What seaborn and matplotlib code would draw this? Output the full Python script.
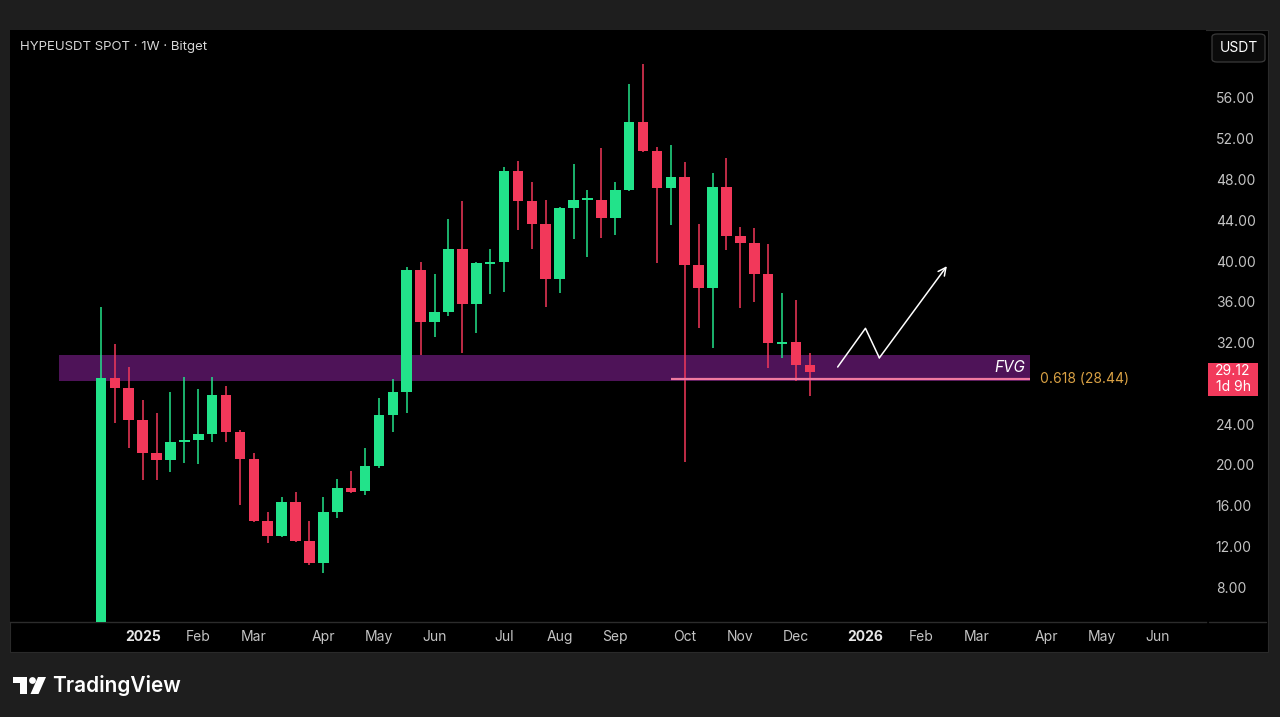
import numpy as np
import pandas as pd
import matplotlib
matplotlib.use('Agg')
import matplotlib.pyplot as plt
import matplotlib.dates as mdates
from matplotlib.patches import Rectangle, FancyBboxPatch, Circle, Polygon
from matplotlib.lines import Line2D
from matplotlib.transforms import IdentityTransform
import seaborn as sns

# Weekly candles HYPEUSDT (Bitget, 1W), first week 2024-12-16
semana_inicio = '2024-12-16'
apertura = [3.9, 28.5, 27.5, 24.4, 21.2, 20.5, 22.2, 22.4, 23.0, 26.9,
            23.2, 20.6, 14.5, 13.0, 16.4, 12.5, 10.4, 15.4, 17.7, 17.4,
            19.9, 24.9, 27.1, 39.1, 34.0, 35.0, 41.2, 35.8, 39.7, 39.9,
            48.8, 45.9, 43.6, 38.2, 45.2, 46.0, 46.0, 44.2, 47.0, 53.6,
            50.8, 47.2, 48.2, 39.6, 37.4, 47.3, 42.5, 41.8, 38.7, 31.9,
            32.1, 29.8]
maximo = [35.5, 31.9, 29.6, 26.4, 25.1, 27.1, 28.6, 27.4, 28.6, 27.7,
          23.4, 21.2, 15.4, 16.8, 17.3, 14.5, 16.8, 18.6, 19.4, 21.7,
          26.6, 28.4, 39.4, 39.9, 38.7, 44.1, 45.9, 39.9, 41.2, 49.2,
          49.8, 47.8, 46.0, 45.3, 49.5, 47.0, 51.1, 47.8, 57.4, 59.3,
          51.2, 51.4, 49.7, 43.6, 48.6, 50.1, 43.3, 43.2, 41.7, 36.9,
          36.2, 31.0]
minimo = [3.2, 24.1, 21.7, 18.5, 18.5, 19.3, 20.2, 20.1, 22.2, 22.2,
          16.1, 14.4, 12.3, 12.9, 12.4, 10.2, 9.4, 14.8, 17.2, 17.0,
          19.7, 23.2, 25.1, 30.8, 32.5, 34.6, 31.0, 32.9, 36.8, 37.0,
          43.0, 41.2, 35.5, 36.9, 42.2, 40.4, 42.3, 42.6, 46.9, 50.7,
          39.8, 43.5, 20.3, 33.4, 31.5, 41.1, 35.4, 36.0, 29.5, 30.5,
          28.2, 26.8]
cierre = [28.5, 27.5, 24.4, 21.2, 20.5, 22.2, 22.4, 23.0, 26.9, 23.2,
          20.6, 14.5, 13.0, 16.4, 12.5, 10.4, 15.4, 17.7, 17.3, 19.9,
          24.9, 27.1, 39.1, 34.0, 35.0, 41.2, 35.8, 39.8, 39.9, 48.8,
          45.9, 43.6, 38.2, 45.2, 46.0, 46.1, 44.2, 47.0, 53.6, 50.8,
          47.2, 48.2, 39.6, 37.4, 47.3, 42.5, 41.8, 38.7, 32.0, 32.1,
          29.8, 29.12]

ticks_fechas = ['2025-01-06', '2025-02-03', '2025-03-03', '2025-04-07', '2025-05-05',
                '2025-06-02', '2025-07-07', '2025-08-04', '2025-09-01', '2025-10-06',
                '2025-11-03', '2025-12-01', '2026-01-05', '2026-02-02', '2026-03-02',
                '2026-04-06', '2026-05-04', '2026-06-01']
ticks_etiquetas = ['2025', 'Feb', 'Mar', 'Apr', 'May', 'Jun', 'Jul', 'Aug', 'Sep', 'Oct',
                   'Nov', 'Dec', '2026', 'Feb', 'Mar', 'Apr', 'May', 'Jun']
precios_eje = [8, 12, 16, 20, 24, 32, 36, 40, 44, 48, 52, 56]

# FVG zone, fib level and projected path
fvg_bajo, fvg_alto = 28.23, 30.78
fvg_desde, fvg_hasta = '2024-11-25', '2026-03-29'
fib_nivel = 28.44
fib_desde = '2025-09-29'
precio_actual = 29.12
proy_fechas = ['2025-12-22', '2026-01-05', '2026-01-12', '2026-02-15']
proy_precios = [29.6, 33.4, 30.5, 39.5]

verde = '#22e38a'
rojo = '#f2385a'
W, H = 1280, 717

sns.set_theme(style='dark', rc={'axes.facecolor': 'black', 'figure.facecolor': '#1e1e1e'})
plt.rcParams['font.family'] = ['Inter', 'DejaVu Sans']

fig = plt.figure(figsize=(W / 100, H / 100), dpi=100)

def fx(x):
    return x / W

def fy(y):
    return 1 - y / H

# black chart panel
fig.add_artist(Rectangle((fx(10), fy(652)), fx(1258), 622 / H, transform=fig.transFigure,
                         facecolor='black', edgecolor='#2a2a2a', linewidth=0.8, zorder=-1))

ax = fig.add_axes([fx(10), fy(622), fx(1196), 592 / H])
ax.set_facecolor('black')

df = pd.DataFrame({
    'fecha': pd.date_range(semana_inicio, periods=len(cierre), freq='W-MON'),
    'open': apertura, 'high': maximo, 'low': minimo, 'close': cierre,
})
df['color'] = np.where(df['close'] >= df['open'], verde, rojo)
x = mdates.date2num(df['fecha'])

ax.vlines(x, df['low'], df['high'], colors=df['color'], linewidth=1.1, zorder=3)
cuerpo = (df['close'] - df['open']).abs().clip(lower=0.18)
base = df[['open', 'close']].min(axis=1)
ax.bar(x, cuerpo, bottom=base, width=5.3, color=df['color'], linewidth=0, zorder=4)

# FVG zone (behind the candles)
x0 = mdates.date2num(pd.Timestamp(fvg_desde))
x1 = mdates.date2num(pd.Timestamp(fvg_hasta))
ax.add_patch(Rectangle((x0, fvg_bajo), x1 - x0, fvg_alto - fvg_bajo,
                       facecolor='#9c27b0', alpha=0.5, linewidth=0, zorder=2))
ax.text(x1 - 2.5, (fvg_bajo + fvg_alto) / 2, 'FVG', ha='right', va='center',
        style='italic', color='white', fontsize=11, zorder=6)

# 0.618 level
xf = mdates.date2num(pd.Timestamp(fib_desde))
ax.hlines(fib_nivel, xf, x1, color='#f07aa0', linewidth=1.6, zorder=5)
ax.text(x1 + 5, fib_nivel, '0.618 (28.44)', ha='left', va='center',
        color='#d9a144', fontsize=10, zorder=6)

# projected path
px = mdates.date2num(pd.to_datetime(proy_fechas))
ax.plot(px[:-1], proy_precios[:-1], color='white', linewidth=1.1, zorder=6)
ax.annotate('', xy=(px[-1], proy_precios[-1]), xytext=(px[-2], proy_precios[-2]),
            arrowprops=dict(arrowstyle='->', color='white', lw=1.1, mutation_scale=14,
                            shrinkA=0, shrinkB=0), zorder=6)

# axes
inicio = pd.Timestamp(semana_inicio)
ax.set_xlim(mdates.date2num(inicio - pd.Timedelta(days=45.8)),
            mdates.date2num(inicio + pd.Timedelta(days=556.5)))
ax.set_ylim(4.58, 62.67)
ax.set_xticks(mdates.date2num(pd.to_datetime(ticks_fechas)))
ax.set_xticklabels(ticks_etiquetas)
ax.yaxis.tick_right()
ax.set_yticks(precios_eje)
ax.set_yticklabels([f'{p:.2f}' for p in precios_eje])
ax.tick_params(axis='x', length=0, pad=6, labelsize=10, labelcolor='#c4c4c4')
ax.tick_params(axis='y', length=0, pad=7, labelsize=10, labelcolor='#c4c4c4')
for lab in ax.get_xticklabels():
    if lab.get_text().isdigit():
        lab.set_fontweight('bold')
        lab.set_color('#e6e6e6')
ax.grid(False)
for lado in ['top', 'left', 'right']:
    ax.spines[lado].set_visible(False)
ax.spines['bottom'].set_color('#2c2c2c')
ax.spines['bottom'].set_linewidth(1.0)
# short piece of the time-axis line under the price scale
fig.add_artist(Line2D([fx(1209), fx(1266)], [fy(622), fy(622)], transform=fig.transFigure,
                      color='#2c2c2c', linewidth=1.0))

# title
fig.text(fx(20), fy(47), 'HYPEUSDT SPOT · 1W · Bitget', ha='left', va='center',
         color='#d6d6d6', fontsize=9.5)

# USDT button
fig.add_artist(FancyBboxPatch((fx(1212), fy(62)), fx(53), 28 / H, transform=fig.transFigure,
                              boxstyle='round,pad=0,rounding_size=0.004',
                              facecolor='#0b0b0b', edgecolor='#3a3a3a', linewidth=0.9, zorder=2))
fig.text(fx(1238.5), fy(48), 'USDT', ha='center', va='center', color='white', fontsize=10, zorder=3)

# current price tag
fig.add_artist(Rectangle((fx(1208), fy(396)), fx(50), 33 / H, transform=fig.transFigure,
                         facecolor='#f23a5c', edgecolor='none', zorder=2))
fig.text(fx(1233), fy(371), f'{precio_actual:.2f}', ha='center', va='center',
         color='white', fontsize=10, zorder=3)
fig.text(fx(1233), fy(387), '1d 9h', ha='center', va='center', color='white', fontsize=10, zorder=3)

# TradingView logo
ident = IdentityTransform()
fig.add_artist(Polygon([(13, H - 677), (27, H - 677), (27, H - 694), (20, H - 694),
                        (20, H - 683), (13, H - 683)], closed=True, transform=ident,
                       facecolor='white', edgecolor='none', zorder=2))
fig.add_artist(Circle((32.5, H - 680.5), 3.4, transform=ident,
                      facecolor='white', edgecolor='none', zorder=2))
fig.add_artist(Polygon([(38, H - 677), (46, H - 677), (38.5, H - 694), (30.5, H - 694)],
                       closed=True, transform=ident, facecolor='white', edgecolor='none', zorder=2))
fig.text(fx(52), fy(685), 'TradingView', ha='left', va='center', color='white',
         fontsize=15, fontweight='semibold')

fig.savefig('out.png', dpi=100, facecolor=fig.get_facecolor())
